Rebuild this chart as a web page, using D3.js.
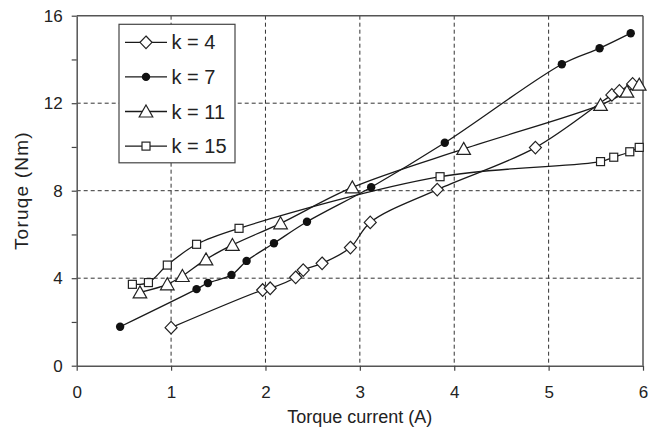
<!DOCTYPE html>
<html>
<head>
<meta charset="utf-8">
<script src="https://cdn.jsdelivr.net/npm/d3@7"></script>
<style>
    body { margin: 0; background: #fff; }
    text { font-family: "Liberation Sans", Arial, sans-serif; fill: #222; }
</style>
</head>
<body>
<div id="chart"></div>
<script>

// series data: [torque current (A), torque (Nm)]
var k4 = [[1.0, 1.74], [1.97, 3.46], [2.05, 3.54], [2.32, 4.04], [2.40, 4.37], [2.60, 4.68],
    [2.90, 5.40], [3.11, 6.55], [3.82, 8.05], [4.86, 9.97], [5.67, 12.38], [5.75, 12.56], [5.89, 12.88]];
var k7 = [[0.46, 1.78], [1.27, 3.50], [1.39, 3.78], [1.64, 4.15], [1.80, 4.79], [2.09, 5.60],
    [2.44, 6.58], [3.12, 8.16], [3.90, 10.19], [5.14, 13.78], [5.54, 14.51], [5.87, 15.20]];
var k11 = [[0.67, 3.35], [0.96, 3.72], [1.12, 4.10], [1.37, 4.86], [1.65, 5.52], [2.16, 6.51],
    [2.92, 8.15], [4.10, 9.91], [5.55, 11.92], [5.83, 12.53], [5.96, 12.85]];
var k15 = [[0.59, 3.72], [0.76, 3.80], [0.96, 4.60], [1.27, 5.55], [1.72, 6.28], [3.85, 8.64],
    [5.55, 9.33], [5.69, 9.53], [5.86, 9.78], [5.96, 9.98]];

var seriesNames = ["k = 4", "k = 7", "k = 11", "k = 15"];
var seriesData = [k4, k7, k11, k15];
var seriesMarkers = ["diamond", "circle", "triangle", "square"];

var xTicks = [0, 1, 2, 3, 4, 5, 6];
var yTicks = [0, 4, 8, 12, 16];
var yMinorTicks = [2, 6, 10, 14];

var margin = {top: 15.7, right: 15, bottom: 67.3, left: 76.7};
var width = 658 - margin.left - margin.right;
var height = 433 - margin.top - margin.bottom;

var svg = d3.select("#chart").append("svg")
    .attr("width", 658)
    .attr("height", 433)
    .append("g")
    .attr("transform", "translate(" + margin.left + "," + margin.top + ")");

var x = d3.scaleLinear().domain([0, 6]).range([0, width]);
var y = d3.scaleLinear().domain([0, 16]).range([height, 0]);

// grid
svg.selectAll(".xgrid")
    .data(xTicks.slice(1, -1))
    .enter().append("line")
    .attr("x1", function(d) { return x(d); })
    .attr("x2", function(d) { return x(d); })
    .attr("y1", 0)
    .attr("y2", height)
    .attr("stroke", "#333")
    .attr("stroke-width", 1)
    .attr("stroke-dasharray", "4,3");

svg.selectAll(".ygrid")
    .data(yTicks.slice(1, -1))
    .enter().append("line")
    .attr("x1", 0)
    .attr("x2", width)
    .attr("y1", function(d) { return y(d); })
    .attr("y2", function(d) { return y(d); })
    .attr("stroke", "#333")
    .attr("stroke-width", 1)
    .attr("stroke-dasharray", "4,3");

// axes
var xAxis = svg.append("g")
    .attr("transform", "translate(0," + height + ")")
    .call(d3.axisBottom(x).tickValues(xTicks).tickFormat(d3.format("d"))
        .tickSizeInner(5).tickSizeOuter(0).tickPadding(15));

var yAxis = svg.append("g")
    .call(d3.axisLeft(y).tickValues(yTicks).tickFormat(d3.format("d"))
        .tickSizeInner(5).tickSizeOuter(0).tickPadding(9));

svg.append("g")
    .call(d3.axisLeft(y).tickValues(yMinorTicks).tickFormat("")
        .tickSizeInner(5).tickSizeOuter(0))
    .select(".domain").remove();

svg.selectAll(".tick text")
    .style("font-size", "17px")
    .style("font-family", "'Liberation Sans', Arial, sans-serif")
    .attr("fill", "#222");
svg.selectAll(".tick line").attr("stroke", "#444").attr("stroke-width", 1.2);
svg.selectAll(".domain").attr("stroke", "#555").attr("stroke-width", 1.5);

// frame top and right
svg.append("line")
    .attr("x1", 0).attr("x2", width).attr("y1", 0).attr("y2", 0)
    .attr("stroke", "#555").attr("stroke-width", 1.5);
svg.append("line")
    .attr("x1", width).attr("x2", width).attr("y1", 0).attr("y2", height)
    .attr("stroke", "#555").attr("stroke-width", 1.5);

// axis titles
svg.append("text")
    .attr("x", x(3))
    .attr("y", height + 57.5)
    .attr("text-anchor", "middle")
    .style("font-size", "18px")
    .text("Torque current (A)");

svg.append("text")
    .attr("transform", "translate(" + (28.5 - margin.left) + "," + (height / 2) + ") rotate(-90)")
    .attr("text-anchor", "middle")
    .style("font-size", "19px")
    .style("letter-spacing", "1.2px")
    .text("Toruqe (Nm)");

// markers
function drawMarker(g, type) {
    if (type == "diamond") {
        g.append("path").attr("d", "M0,-6.3L6,0L0,6.3L-6,0Z")
            .attr("fill", "#fff").attr("stroke", "#222").attr("stroke-width", 1.2);
    } else if (type == "circle") {
        g.append("circle").attr("r", 4.2).attr("fill", "#111");
    } else if (type == "triangle") {
        g.append("path").attr("d", "M0,-6.5L6.8,5.5L-6.8,5.5Z")
            .attr("fill", "#fff").attr("stroke", "#222").attr("stroke-width", 1.2);
    } else {
        g.append("rect").attr("x", -4).attr("y", -4).attr("width", 8).attr("height", 8)
            .attr("fill", "#fff").attr("stroke", "#222").attr("stroke-width", 1.2);
    }
}

var line = d3.line()
    .x(function(d) { return x(d[0]); })
    .y(function(d) { return y(d[1]); })
    .curve(d3.curveCatmullRom.alpha(0.5));

seriesData.forEach(function(data) {
    svg.append("path")
        .datum(data)
        .attr("d", line)
        .attr("fill", "none")
        .attr("stroke", "#1a1a1a")
        .attr("stroke-width", 1.3);
});

seriesData.forEach(function(data, i) {
    svg.selectAll(".m" + i)
        .data(data)
        .enter().append("g")
        .attr("class", "m" + i)
        .attr("transform", function(d) { return "translate(" + x(d[0]) + "," + y(d[1]) + ")"; })
        .each(function() { drawMarker(d3.select(this), seriesMarkers[i]); });
});

// legend
var legend = svg.append("g")
    .attr("transform", "translate(" + (119 - margin.left) + "," + (24.3 - margin.top) + ")");

legend.append("rect")
    .attr("width", 116)
    .attr("height", 138.5)
    .attr("fill", "#fff")
    .attr("stroke", "#444")
    .attr("stroke-width", 1.2);

var items = legend.selectAll(".item")
    .data(seriesNames)
    .enter().append("g")
    .attr("transform", function(d, i) { return "translate(0," + (18 + i * 34.6) + ")"; });

items.append("line")
    .attr("x1", 6).attr("x2", 48).attr("y1", 0).attr("y2", 0)
    .attr("stroke", "#1a1a1a").attr("stroke-width", 1.3);

items.append("g")
    .attr("transform", "translate(27,0)")
    .each(function(d, i) { drawMarker(d3.select(this), seriesMarkers[i]); });

items.append("text")
    .attr("x", 52.5)
    .attr("y", 7)
    .style("font-size", "20px")
    .text(function(d) { return d; });

</script>
</body>
</html>
